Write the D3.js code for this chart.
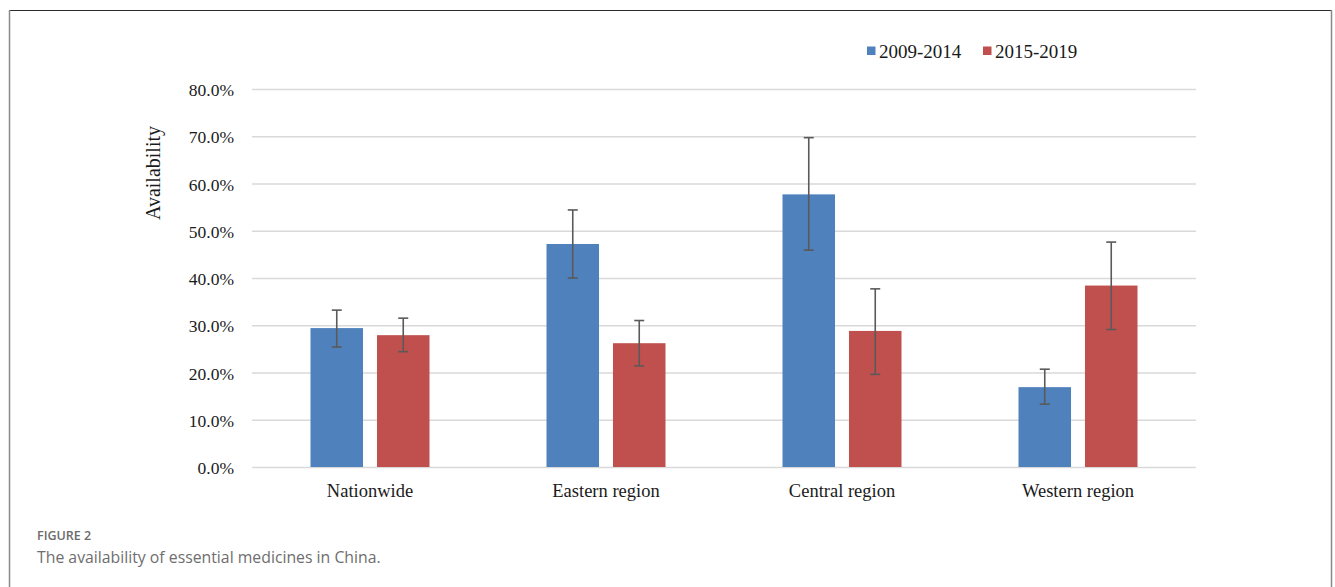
<!DOCTYPE html>
<html>
<head>
<meta charset="utf-8">
<script src="https://cdn.jsdelivr.net/npm/d3@7/dist/d3.min.js"></script>
<style>
  html, body { margin: 0; padding: 0; background: #ffffff; }
  svg { display: block; }
</style>
</head>
<body>
<svg id="chart" width="1335" height="587"></svg>
<script>
// Availability of essential medicines, by region and period
const regions = ["Nationwide", "Eastern region", "Central region", "Western region"];
const periods = ["2009-2014", "2015-2019"];
const colors = ["#4F81BD", "#C0504D"];

// Mean availability (%) per region for each period
const avail2009 = [29.4, 47.2, 57.7, 16.9];
const avail2015 = [27.9, 26.2, 28.8, 38.4];
// Error bar bounds (%)
const low2009  = [25.4, 40.0, 45.9, 13.3];
const high2009 = [33.2, 54.4, 69.7, 20.7];
const low2015  = [24.4, 21.4, 19.6, 29.1];
const high2015 = [31.5, 31.0, 37.7, 47.6];

const yTicks = [0, 10, 20, 30, 40, 50, 60, 70, 80];

const rows = regions.map((r, i) => ({
  region: r,
  values: [
    { period: periods[0], v: avail2009[i], lo: low2009[i], hi: high2009[i] },
    { period: periods[1], v: avail2015[i], lo: low2015[i], hi: high2015[i] }
  ]
}));

const svg = d3.select("#chart");
const serif = "'Liberation Serif', 'Times New Roman', serif";
const sans = "'Open Sans', 'Noto Sans', sans-serif";

// Figure frame
svg.append("line").attr("x1", 9).attr("x2", 1332).attr("y1", 10.5).attr("y2", 10.5)
  .attr("stroke", "#2b2b2b").attr("stroke-width", 1.2);
svg.append("line").attr("x1", 9.5).attr("x2", 9.5).attr("y1", 10).attr("y2", 587)
  .attr("stroke", "#8a8a8a").attr("stroke-width", 1.5);
svg.append("line").attr("x1", 1331.5).attr("x2", 1331.5).attr("y1", 10).attr("y2", 587)
  .attr("stroke", "#8a8a8a").attr("stroke-width", 1.5);

const plot = { left: 252, right: 1196, top: 89, bottom: 467 };

const x0 = d3.scaleBand().domain(regions).range([plot.left, plot.right]).padding(0);
const x1 = d3.scaleBand().domain(periods).range([-59.5, 59.5]).paddingInner(0.21).paddingOuter(0);
const y = d3.scaleLinear().domain([0, 80]).range([plot.bottom, plot.top]);

// Horizontal gridlines and percent labels
const yAxis = d3.axisLeft(y)
  .tickValues(yTicks)
  .tickSize(-(plot.right - plot.left))
  .tickPadding(18)
  .tickFormat(d => d.toFixed(1) + "%");

const gy = svg.append("g").attr("transform", `translate(${plot.left},0)`).call(yAxis);
gy.select(".domain").remove();
gy.selectAll(".tick line").attr("stroke", "#d9d9d9").attr("stroke-width", 1.6);
gy.selectAll(".tick text")
  .attr("font-family", serif).attr("font-size", 17.5).attr("fill", "#1a1a1a")
  .attr("dy", "0.38em");

// Category labels
const xAxis = d3.axisBottom(x0).tickSize(0).tickPadding(17);
const gx = svg.append("g").attr("transform", `translate(0,${plot.bottom})`).call(xAxis);
gx.select(".domain").remove();
gx.selectAll(".tick text")
  .attr("font-family", serif).attr("font-size", 18.5).attr("fill", "#1a1a1a");

// Y axis title
svg.append("text")
  .attr("transform", `translate(160,173) rotate(-90)`)
  .attr("text-anchor", "middle")
  .attr("font-family", serif).attr("font-size", 20).attr("fill", "#1a1a1a")
  .text("Availability");

// Bars
const groups = svg.append("g").selectAll("g.grp")
  .data(rows).join("g")
  .attr("class", "grp")
  .attr("transform", d => `translate(${x0(d.region) + x0.bandwidth() / 2},0)`);

groups.selectAll("rect")
  .data(d => d.values).join("rect")
  .attr("x", d => x1(d.period))
  .attr("width", x1.bandwidth())
  .attr("y", d => y(d.v))
  .attr("height", d => y(0) - y(d.v))
  .attr("fill", (d, i) => colors[i]);

// Error bars
const capHalf = 5;
const err = groups.selectAll("g.err")
  .data(d => d.values).join("g")
  .attr("class", "err")
  .attr("stroke", "#5a5a5a").attr("stroke-width", 1.6);
err.append("line")
  .attr("x1", d => x1(d.period) + x1.bandwidth() / 2)
  .attr("x2", d => x1(d.period) + x1.bandwidth() / 2)
  .attr("y1", d => y(d.lo)).attr("y2", d => y(d.hi));
err.append("line")
  .attr("x1", d => x1(d.period) + x1.bandwidth() / 2 - capHalf)
  .attr("x2", d => x1(d.period) + x1.bandwidth() / 2 + capHalf)
  .attr("y1", d => y(d.hi)).attr("y2", d => y(d.hi));
err.append("line")
  .attr("x1", d => x1(d.period) + x1.bandwidth() / 2 - capHalf)
  .attr("x2", d => x1(d.period) + x1.bandwidth() / 2 + capHalf)
  .attr("y1", d => y(d.lo)).attr("y2", d => y(d.lo));

// Legend
const legend = svg.append("g").attr("transform", "translate(867,51)");
const legendX = [0, 116];
periods.forEach((p, i) => {
  const g = legend.append("g").attr("transform", `translate(${legendX[i]},0)`);
  g.append("rect").attr("x", 0).attr("y", -4.5).attr("width", 8.5).attr("height", 8.5)
    .attr("fill", colors[i]);
  g.append("text").attr("x", 12).attr("y", 0).attr("dy", "0.35em")
    .attr("font-family", serif).attr("font-size", 19).attr("fill", "#1a1a1a")
    .text(p);
});

// Caption
svg.append("text").attr("x", 37).attr("y", 540)
  .attr("font-family", sans).attr("font-size", 12.5).attr("font-weight", 600)
  .attr("fill", "#6b6b6b").text("FIGURE 2");
svg.append("text").attr("x", 37).attr("y", 563)
  .attr("font-family", sans).attr("font-size", 15.8).attr("font-weight", 400)
  .attr("fill", "#6e6e6e").text("The availability of essential medicines in China.");
</script>
</body>
</html>
